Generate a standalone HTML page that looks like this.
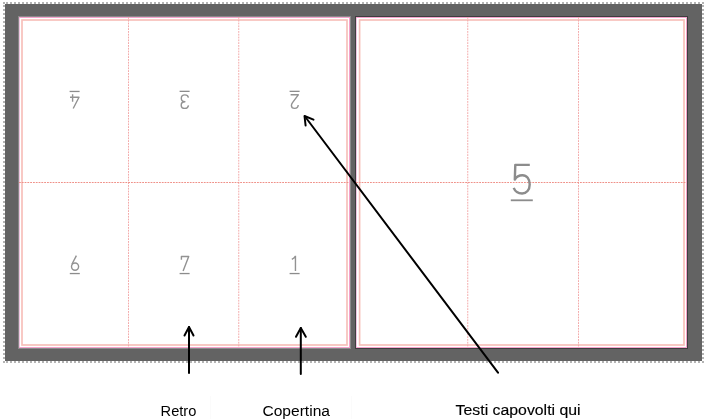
<!DOCTYPE html>
<html><head><meta charset="utf-8">
<style>
html,body{margin:0;padding:0;background:#fff;width:707px;height:419px;overflow:hidden;}
svg{position:absolute;left:0;top:0;display:block;}
text{font-family:"Liberation Sans",sans-serif;}
#dg{will-change:transform;}
</style></head>
<body>
<svg width="707" height="419" viewBox="0 0 707 419">
  <!-- dotted selection frame -->
  <g stroke="#b4b4b4" stroke-width="2" stroke-dasharray="2 2" fill="none" shape-rendering="crispEdges">
    <line x1="6" y1="3" x2="704" y2="3"/>
    <line x1="6" y1="362" x2="704" y2="362"/>
    <line x1="4" y1="5" x2="4" y2="361"/>
    <line x1="703" y1="5" x2="703" y2="361"/>
  </g>
  <rect x="3" y="2" width="2" height="2" fill="#b4b4b4" shape-rendering="crispEdges"/>
  <rect x="3" y="361" width="2" height="2" fill="#b4b4b4" shape-rendering="crispEdges"/>
  <!-- gray background -->
  <rect x="5" y="4" width="697" height="357" fill="#636363"/>
  <!-- left panel -->
  <rect x="18" y="16" width="333" height="333" fill="#8a8a8a"/>
  <rect x="19" y="17" width="331" height="331" fill="#fff"/>
  <rect x="19.5" y="17.5" width="330" height="330" fill="none" stroke="#f5a3cc" stroke-width="1"/>
  <rect x="22" y="20" width="325" height="325" fill="none" stroke="#f7c0ba" stroke-width="1.7"/>
  <line x1="19.5" y1="18" x2="19.5" y2="347" stroke="#efc6e2" stroke-width="1"/>
  <!-- right panel -->
  <rect x="355" y="16" width="333" height="333" fill="#3e3e3e"/>
  <rect x="356" y="17" width="331" height="331" fill="#fff"/>
  <rect x="356.5" y="17.5" width="330" height="330" fill="none" stroke="#f5a3cc" stroke-width="1"/>
  <rect x="359.6" y="20" width="324.4" height="325" fill="none" stroke="#f7c0ba" stroke-width="1.7"/>
  <line x1="356.5" y1="18" x2="356.5" y2="347" stroke="#eec4e0" stroke-width="1"/>
  <!-- guides -->
  <g stroke="#f3aaaa" stroke-width="1" stroke-dasharray="1.8 1" fill="none">
    <line x1="128.5" y1="17" x2="128.5" y2="347"/>
    <line x1="238.75" y1="17" x2="238.75" y2="347"/>
    <line x1="467.75" y1="17" x2="467.75" y2="347"/>
    <line x1="578.5" y1="17" x2="578.5" y2="347"/>
  </g>
  <g stroke="#ef9088" stroke-width="1" stroke-dasharray="1.8 1" fill="none">
    <line x1="19" y1="182.5" x2="349" y2="182.5"/>
    <line x1="356" y1="182.5" x2="686" y2="182.5"/>
  </g>
</svg>
<svg id="dg" width="707" height="419" viewBox="0 0 707 419">
  <!-- digits -->
  <g fill="none" stroke="#929292" stroke-width="1.4" stroke-linecap="butt" stroke-linejoin="round">
    <!-- 4 upside down -->
    <path d="M72.6,94.2 V101.8 M70,97.2 H79 L73.2,108.5"/>
    <!-- 3 upside down -->
    <path d="M188.4,97.6 C188,95.6 186.4,94.9 184.9,94.9 C182.7,94.9 181.3,96.5 181.3,98.3 C181.3,100.3 182.8,101.7 184.9,101.7 C182.6,101.7 181.2,103.3 181.2,105.2 C181.2,107.3 183,108.4 184.9,108.4 C186.7,108.4 188.1,107.4 188.5,105.3"/>
    <!-- 2 upside down -->
    <path d="M290.6,94.8 H298.3 L292.7,102.4 C291.9,103.5 291.4,104.5 291.4,105.5 C291.4,107.3 292.8,108.4 294.7,108.4 C296.6,108.4 298.1,107.2 298.2,105"/>
    <!-- 6 -->
    <path d="M76.4,255.6 L71.9,264.3"/>
    <ellipse cx="75.05" cy="266.6" rx="3.55" ry="3.65"/>
    <!-- 7 -->
    <path d="M181.4,259.8 V256.5 H188.7 L183.1,270.9"/>
    <!-- 1 -->
    <path d="M295.45,255.7 V270.9 M295.45,256.2 C294.6,257.6 293.4,258.6 291.8,259.3"/>
  </g>
  <g fill="#8c8c8c">
    <rect x="69.6" y="90.8" width="10" height="1.3"/>
    <rect x="179.6" y="90.7" width="10" height="1.3"/>
    <rect x="289.6" y="90.7" width="10" height="1.3"/>
    <rect x="69.8" y="272.9" width="10" height="1.3"/>
    <rect x="179.6" y="272.9" width="10" height="1.3"/>
    <rect x="289.6" y="272.9" width="10" height="1.3"/>
    <path d="M529.8,164.9 H515.3 L514.8,179.6 C516.4,176.8 519.3,175.3 522.4,175.3 C526.8,175.3 529.7,179.1 529.7,184.4 C529.7,189.7 526.5,193.5 522.1,193.5 C518.2,193.5 515.1,191.5 513.7,187.9" fill="none" stroke="#8c8c8c" stroke-width="2.4" stroke-linejoin="round"/>
    <rect x="510.8" y="199.4" width="22" height="1.8"/>
  </g>
</svg>
<svg width="707" height="419" viewBox="0 0 707 419">
  <!-- arrows -->
  <g stroke="#000" stroke-width="2" fill="none" stroke-linecap="round" stroke-linejoin="round">
    <line x1="189" y1="373" x2="189" y2="327"/>
    <polyline points="184.5,335.5 189,327 193.5,335.5"/>
    <line x1="300.8" y1="374" x2="300.8" y2="328"/>
    <polyline points="296,336.8 300.8,328 305.8,336.8"/>
    <line x1="498" y1="372.7" x2="305" y2="116.5"/>
    <polyline points="313.5,119.6 304.5,116 305.6,125.5"/>
  </g>
  <line x1="210.5" y1="396" x2="210.5" y2="419" stroke="#fbfbfb" stroke-width="1"/>
  <line x1="351.5" y1="396" x2="351.5" y2="419" stroke="#fbfbfb" stroke-width="1"/>
  <!-- labels -->
  <g fill="#000">
    <text x="160.6" y="416" font-size="15.2" textLength="35.8" lengthAdjust="spacingAndGlyphs">Retro</text>
    <text x="262.4" y="415.7" font-size="14.9" textLength="67.6" lengthAdjust="spacingAndGlyphs">Copertina</text>
    <text x="455.6" y="415" font-size="15.3" textLength="125" stroke="#000" stroke-width="0.15" lengthAdjust="spacingAndGlyphs">Testi capovolti qui</text>
  </g>
</svg>
</body></html>
